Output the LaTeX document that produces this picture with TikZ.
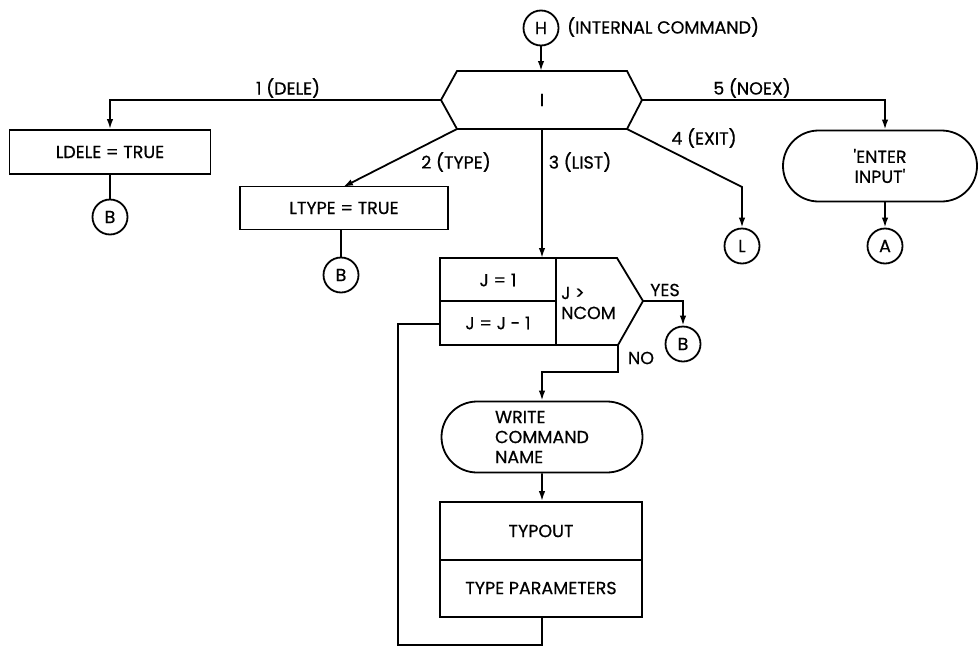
\documentclass[tikz,border=0pt]{standalone}
\usepackage{fontspec}
\setmainfont{Poppins}[FakeBold=0.6]
\usetikzlibrary{shapes.misc,arrows.meta}
\begin{document}
\begin{tikzpicture}[x=1pt,y=-1pt,
  every node/.style={font=\fontsize{17.5}{20}\selectfont},
  ln/.style={line width=1.8pt},
  arr/.style={ln,-{Latex[length=10pt,width=6.5pt]}},
  conn/.style={circle,draw,line width=1.8pt,minimum size=35pt,inner sep=0pt},
  proc/.style={rectangle,draw,line width=1.8pt,inner sep=0pt},
  term/.style={rounded rectangle,draw,line width=1.8pt,inner sep=0pt,align=left},
  lbl/.style={inner sep=1pt}]
\useasboundingbox (0,0) rectangle (979,648);

% entry connector
\node[conn] (H) at (541,28) {H};
\node[lbl,anchor=west] (hlbl) at (566,27) {(INTERNAL COMMAND)};

% hexagon
\coordinate (htl) at (457,71);
\coordinate (htr) at (627,71);
\coordinate (hr) at (642,100);
\coordinate (hbr) at (627,129);
\coordinate (hbl) at (457,129);
\coordinate (hl) at (441,100);
\coordinate (htop) at (541,71);
\coordinate (hbot) at (542,129);
\draw[ln] (htl) -- (htr) -- (hr) -- (hbr) -- (hbl) -- (hl) -- cycle;
\node (hI) at (542,100) {I};
\draw[arr] (H) -- (htop);

% branch 1
\node[proc,minimum width=201pt,minimum height=44pt] (ldele) at (110,152) {LDELE = TRUE};
\node[conn] (b1) at (110,217) {B};
\draw[arr] (hl) -| (ldele.north);
\draw[ln] (ldele) -- (b1);
\node[lbl] (l1) at (288,88) {1 (DELE)};

% branch 2
\node[proc,minimum width=208pt,minimum height=43pt] (ltype) at (344,208) {LTYPE = TRUE};
\node[conn] (b2) at (341,275) {B};
\coordinate (ltypetop) at (343,187);
\draw[arr] (hbl) -- (ltypetop);
\draw[ln] (ltype.south -| b2) -- (b2);
\node[lbl] (l2) at (456,162) {2 (TYPE)};

% branch 3 : loop box
\coordinate (jtl) at (440,258);
\coordinate (jtr) at (617,258);
\coordinate (jr) at (643,301);
\coordinate (jbr) at (618,345);
\coordinate (jbl) at (440,345);
\coordinate (jtop) at (542,258);
\draw[ln] (jtl) -- (jtr) -- (jr) -- (jbr) -- (jbl) -- cycle;
\draw[ln] (440,301) -- (556,301);
\draw[ln] (556,258) -- (556,345);
\node (j1) at (498,280) {J = 1};
\node (j2) at (498,323) {J = J - 1};
\node[align=left,anchor=west,inner sep=0pt] (jt) at (561,303) {J >\\NCOM};
\draw[arr] (hbot) -- (jtop);
\node[lbl] (l3) at (580,162) {3 (LIST)};

% yes
\node[conn] (b3) at (683,344) {B};
\draw[arr] (jr) -| (b3.north);
\node[lbl] (lyes) at (665,290) {YES};

% no
\node[term,minimum width=201pt,minimum height=71pt] (write) at (542,437) {WRITE\\COMMAND\\NAME};
\coordinate (nobend) at (618,372);
\draw[arr] (jbr) -- (nobend) -| (write.north);
\node[lbl] (lno) at (641,358) {NO};

% typout
\node[proc,minimum width=202pt,minimum height=115pt] (typ) at (541,559.5) {};
\draw[ln] (typ.west |- 0,560) -- (typ.east |- 0,560);
\node (typ1) at (541,531) {TYPOUT};
\node (typ2) at (541,588) {TYPE PARAMETERS};
\draw[arr] (write) -- (typ.north -| write);

% loop back
\coordinate (lp1) at (542,645);
\coordinate (lp2) at (398,645);
\coordinate (lp3) at (398,324);
\coordinate (jleft) at (440,324);
\draw[ln] (typ.south -| lp1) -- (lp1) -- (lp2) -- (lp3) -- (jleft);

% branch 4
\coordinate (exitbend) at (742,187);
\node[conn] (lc) at (742,246) {L};
\draw[arr] (hbr) -- (exitbend) -- (lc.north);
\node[lbl] (l4) at (704,138) {4 (EXIT)};

% branch 5
\node[term,align=center,minimum width=194pt,minimum height=71pt] (enter) at (880,166) {\textquotesingle ENTER\\INPUT\textquotesingle};
\node[conn] (ac) at (885,246) {A};
\draw[arr] (hr) -| (enter.north -| ac);
\draw[arr] (enter.south -| ac) -- (ac);
\node[lbl] (l5) at (752,88) {5 (NOEX)};
\end{tikzpicture}
\end{document}
